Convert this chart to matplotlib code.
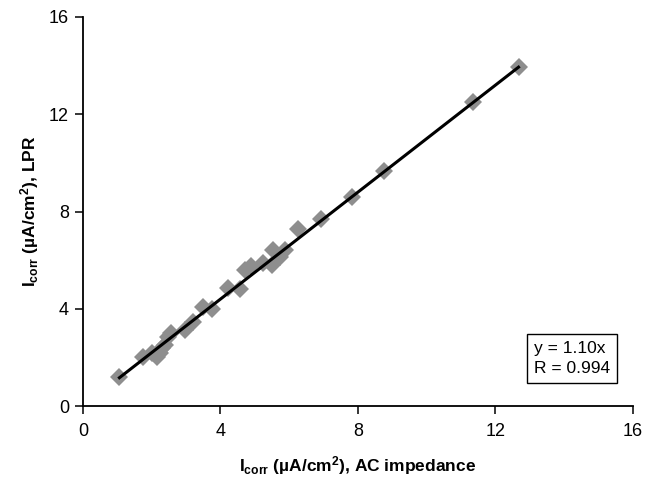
import matplotlib
matplotlib.use("Agg")
import matplotlib.pyplot as plt
import numpy as np

plt.rcParams['font.family'] = ['Liberation Sans', 'DejaVu Sans']
plt.rcParams['mathtext.default'] = 'regular'

# Corrosion current density, AC impedance (x) vs LPR (y)
i_ac = [1.06, 1.75, 2.00, 2.16, 2.24, 2.30, 2.38, 2.48, 2.55, 2.97, 3.21,
        3.50, 3.74, 4.23, 4.56, 4.71, 4.90, 5.24, 5.49, 5.53, 5.73, 5.87,
        6.26, 6.91, 7.84, 8.75, 11.36, 12.67]
i_lpr = [1.21, 2.03, 2.20, 2.03, 2.17, 2.40, 2.51, 2.85, 3.00, 3.13, 3.47,
         4.09, 3.98, 4.84, 4.80, 5.60, 5.76, 5.87, 5.80, 6.42, 6.14, 6.42,
         7.29, 7.70, 8.60, 9.67, 12.50, 13.95]
slope = 1.10
r_value = 0.994
ticks = [0, 4, 8, 12, 16]

fig = plt.figure(figsize=(6.55, 4.8), dpi=100)
ax = fig.add_axes([0.1267, 0.154, 0.8397, 0.8106])

ax.plot(i_ac, i_lpr, linestyle='none', marker='D', markersize=9,
        color='#8e8e8e', markeredgewidth=0, zorder=2)

# Fit line through origin
xfit = np.array([min(i_ac), max(i_ac)])
ax.plot(xfit, slope * xfit, color='black', lw=2.2, zorder=3)

ax.set_xlim(0, 16)
ax.set_ylim(0, 16)
ax.set_xticks(ticks)
ax.set_yticks(ticks)
ax.tick_params(direction='out', length=6, width=1.1, labelsize=13)
ax.tick_params(axis='x', pad=6)
ax.tick_params(axis='y', pad=4)
for s in ['top', 'right']:
    ax.spines[s].set_visible(False)
for s in ['left', 'bottom']:
    ax.spines[s].set_linewidth(1.3)

ax.set_xlabel(r'I$_{corr}$ (µA/cm$^{2}$), AC impedance', fontsize=12.5,
              fontweight='bold', labelpad=10)
ax.set_ylabel(r'I$_{corr}$ (µA/cm$^{2}$), LPR', fontsize=12.5,
              fontweight='bold', labelpad=6)

ax.text(0.82, 0.122, f'y = {slope:.2f}x\nR = {r_value:.3f}',
        transform=ax.transAxes, ha='left', va='center', fontsize=12.5,
        linespacing=1.45, multialignment='left',
        bbox=dict(boxstyle='square,pad=0.38', facecolor='white',
                  edgecolor='black', linewidth=1))

fig.savefig('out.png', dpi=100)
